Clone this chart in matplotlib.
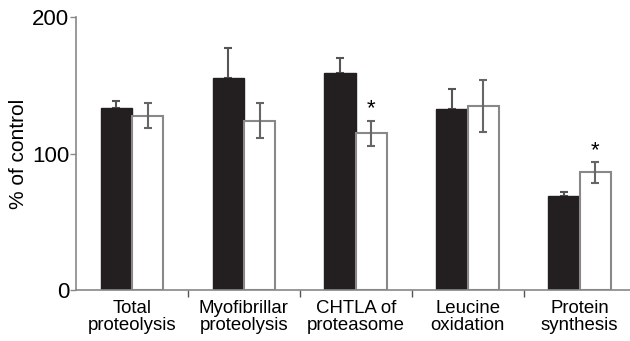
import matplotlib
matplotlib.use("Agg")
import matplotlib.pyplot as plt
import numpy as np

plt.rcParams['font.family'] = ['Liberation Sans', 'DejaVu Sans']

categories = ["Total\nproteolysis", "Myofibrillar\nproteolysis", "CHTLA of\nproteasome",
              "Leucine\noxidation", "Protein\nsynthesis"]
black_vals = [133, 155.5, 158.7, 132.4, 68.9]
black_err = [5.5, 21.5, 11, 14.6, 2.7]
white_vals = [127.7, 124, 114.8, 134.8, 86.2]
white_err = [9.2, 13, 9, 19, 7.5]
significant = [False, False, True, False, True]

fig = plt.figure(figsize=(6.3, 3.41), dpi=100)
ax = fig.add_axes([76/630, 51/341, 1 - 76/630, 273/341])

x = np.arange(len(categories))
w = 0.28
ax.bar(x - w/2, black_vals, width=w, color='#231f20', edgecolor='#231f20', linewidth=1, zorder=2)
ax.errorbar(x - w/2, black_vals, yerr=[np.zeros(len(x)), black_err], fmt='none',
            ecolor='#555555', elinewidth=1.5, capsize=3, capthick=1.5, zorder=1)
ax.bar(x + w/2, white_vals, width=w, color='white', edgecolor='#888888', linewidth=1.5, zorder=2)
ax.errorbar(x + w/2, white_vals, yerr=white_err, fmt='none',
            ecolor='#666666', elinewidth=1.5, capsize=3, capthick=1.5, zorder=3)
for i, s in enumerate(significant):
    if s:
        ax.text(x[i] + w/2, white_vals[i] + white_err[i] + 1.0, '*', ha='center', va='bottom',
                fontsize=16, color='black')

ax.set_xlim(-0.5, 4.45)
ax.set_ylim(0, 200)
ax.set_yticks([0, 100, 200])
ax.tick_params(axis='y', labelsize=16, length=4, width=1, color='#888888', pad=1)
ax.set_xticks(x)
ax.set_xticklabels(categories, fontsize=13.4, linespacing=1.05)
ax.tick_params(axis='x', length=0, pad=7)
ax.set_xticks(np.arange(0.5, 4.5, 1), minor=True)
ax.tick_params(axis='x', which='minor', length=5, width=1, color='#555555')
for sp in ['top', 'right']:
    ax.spines[sp].set_visible(False)
for sp in ['left', 'bottom']:
    ax.spines[sp].set_color('#888888')
    ax.spines[sp].set_linewidth(1.2)
ax.set_ylabel('% of control', fontsize=15, labelpad=3)

fig.savefig('out.png', dpi=100)
